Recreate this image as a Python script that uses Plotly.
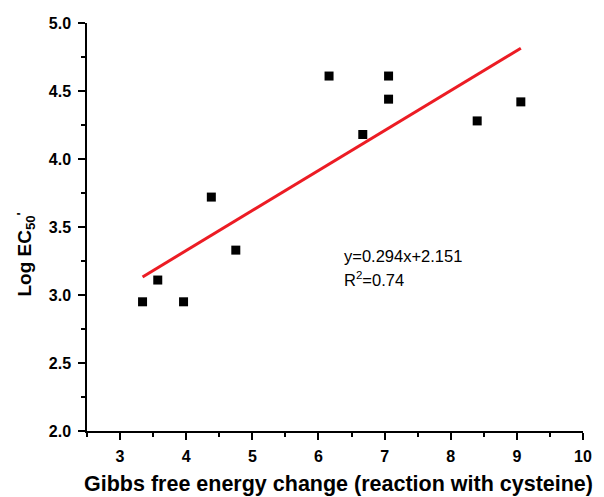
import plotly.graph_objects as go

# Data
gibbs = [3.34, 3.57, 3.96, 4.38, 4.75, 6.16, 6.67, 7.06, 7.06, 8.40, 9.06]
log_ec50 = [2.95, 3.11, 2.95, 3.72, 3.33, 4.61, 4.18, 4.61, 4.44, 4.28, 4.42]

slope = 0.294
intercept = 2.151
r2 = 0.74

x_ticks = [3, 4, 5, 6, 7, 8, 9, 10]
y_ticks = [2.0, 2.5, 3.0, 3.5, 4.0, 4.5, 5.0]

FONT = "Arial, 'Liberation Sans', sans-serif"

fit_x = [min(gibbs), max(gibbs)]
fit_y = [slope * v + intercept for v in fit_x]

fig = go.Figure()
fig.add_trace(go.Scatter(
    x=gibbs, y=log_ec50, mode="markers",
    marker=dict(symbol="square", size=9, color="black", line=dict(width=0)),
    showlegend=False, hoverinfo="skip"))
fig.add_trace(go.Scatter(
    x=fit_x, y=fit_y, mode="lines",
    line=dict(color="#ec1c24", width=3),
    showlegend=False, hoverinfo="skip"))

axis_common = dict(
    showline=True, linecolor="black", linewidth=1.5,
    ticks="outside", ticklen=7, tickwidth=1.5, tickcolor="black",
    showgrid=False, zeroline=False,
    tickfont=dict(family=FONT, size=16, color="black", weight="bold"),
)

fig.update_xaxes(
    range=[2.5, 10], tickvals=x_ticks, ticktext=[str(v) for v in x_ticks],
    minor=dict(ticks="outside", ticklen=4, tickwidth=1.5, tickcolor="black", dtick=0.5, tick0=2.5),
    ticklabelstandoff=3, ticklabeloverflow="allow",
    **axis_common)
fig.update_yaxes(
    range=[2.0, 5.0], tickvals=y_ticks, ticktext=[f"{v:.1f}" for v in y_ticks],
    minor=dict(ticks="outside", ticklen=4, tickwidth=1.5, tickcolor="black", dtick=0.25, tick0=2.0),
    ticklabelstandoff=4,
    **axis_common)

annotations = [
    dict(text=f"y={slope}x+{intercept}", x=6.35, y=3.29, xref="x", yref="y",
         xanchor="left", yanchor="middle", showarrow=False,
         font=dict(family=FONT, size=16.5, color="black")),
    dict(text=f"R<sup>2</sup>={r2}", x=6.35, y=3.12, xref="x", yref="y",
         xanchor="left", yanchor="middle", showarrow=False,
         font=dict(family=FONT, size=16.5, color="black")),
    dict(text="Gibbs free energy change (reaction with cysteine)",
         x=0.507, y=-0.13, xref="paper", yref="paper",
         xanchor="center", yanchor="middle", showarrow=False,
         font=dict(family=FONT, size=21.5, color="black", weight="bold")),
    dict(text="Log EC<sub>50</sub>", textangle=-90,
         x=-0.123, y=0.43, xref="paper", yref="paper",
         xanchor="center", yanchor="middle", showarrow=False,
         font=dict(family=FONT, size=19, color="black", weight="bold")),
    dict(text="'", textangle=-90,
         x=-0.132, y=0.532, xref="paper", yref="paper",
         xanchor="center", yanchor="middle", showarrow=False,
         font=dict(family=FONT, size=13, color="black", weight="bold")),
]

fig.update_layout(
    width=604, height=497,
    margin=dict(l=87, r=12, t=23, b=66),
    paper_bgcolor="white", plot_bgcolor="white",
    annotations=annotations,
)

fig.write_html("out.html")
